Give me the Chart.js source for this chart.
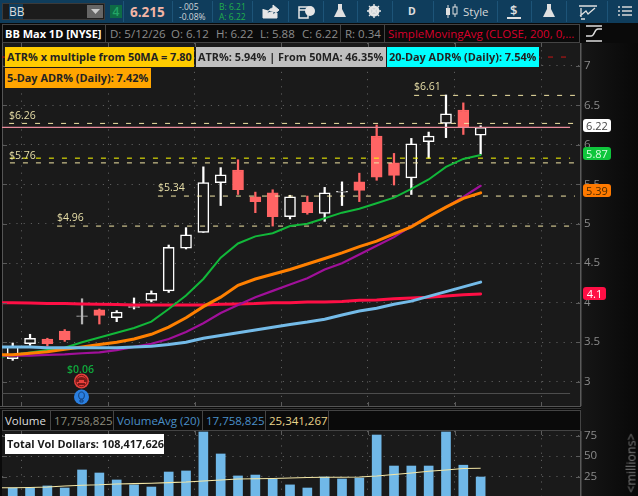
<!DOCTYPE html>
<html><head><meta charset="utf-8">
<script src="https://cdn.jsdelivr.net/npm/chart.js@4"></script>
<style>
html,body{margin:0;padding:0;background:#0a0a0a;overflow:hidden}
#root{position:relative;width:638px;height:496px;overflow:hidden;font-family:"Open Sans",sans-serif;background:#0a0a0a}
#root div{position:absolute;white-space:nowrap}
.tool{left:0;top:0;width:638px;height:23px;background:#0f3d5c}
.sep{top:1px;width:1px;height:21px;background:#1d5478}
.cell{top:24px;height:19px;box-sizing:border-box;border:1px solid #444;background:#0a0a0a}
.hd{top:24px;height:19px;line-height:19px;font-size:11.5px;color:#8c8c8c}
.plot{background:#1a1a1a}
.lab{font-weight:700;font-size:10.9px;line-height:19px;color:#222;height:19.5px;box-sizing:border-box;padding-left:2px}
.lvl{font-size:10.5px;color:#e8dfa8;line-height:12px}
.pill{font-size:11px;line-height:13px;height:13px;border-radius:3px;text-align:center}
canvas{position:absolute}
svg{position:absolute}
</style></head><body>
<div id="root">
  <div class="tool"></div>
  <div style="left:581px;top:43px;width:57px;height:453px;background:linear-gradient(90deg,#161616,#080808)"></div>
  <div style="left:2px;top:3px;width:103px;height:17px;background:#1c1c1c;border:1px solid #3a3a3a;box-sizing:border-box"></div>
  <div style="left:9px;top:4px;width:14px;height:15px;background:#0f3d5c;color:#ddd;font-size:12px;line-height:15px">BB</div>
  <div style="left:87px;top:5px;width:16px;height:13px;background:#666"></div>
  <svg style="left:91px;top:9px" width="9" height="5"><path d="M0 0H9L4.5 5Z" fill="#ccc"/></svg>
  <div style="left:110px;top:5px;width:12px;height:13px;background:#0e6b45;color:#23a566;font-size:12px;line-height:13px;text-align:center;font-weight:600">4</div>
  <div class="sep" style="left:123px"></div><div class="sep" style="left:172px"></div><div class="sep" style="left:212px"></div><div class="sep" style="left:252px"></div><div class="sep" style="left:288px"></div><div class="sep" style="left:323px"></div><div class="sep" style="left:357px"></div><div class="sep" style="left:392px"></div><div class="sep" style="left:433px"></div><div class="sep" style="left:497px"></div><div class="sep" style="left:531px"></div><div class="sep" style="left:566px"></div><div class="sep" style="left:607px"></div>
  <div style="left:130px;top:2px;font-size:13.5px;font-weight:700;color:#f2b5a5;line-height:20px">6.215</div>
  <div style="left:179px;top:2px;font-size:8.5px;color:#cfd6da;line-height:10px">-.005<br>-0.08%</div>
  <div style="left:219px;top:2px;font-size:8.5px;color:#21b04b;line-height:10px">B: 6.21<br>A: 6.22</div>
  <svg style="left:262px;top:4px" width="18" height="15"><path d="M1 5V14H15V9M5 10C6 6 9 4 11 4V1L17 6L11 11V8C9 8 7 8 5 10Z" fill="#e6e6e6" stroke="#e6e6e6"/></svg>
  <svg style="left:298px;top:4px" width="18" height="15"><path d="M1 3H10V14H1ZM1 6H9" fill="none" stroke="#e6e6e6" stroke-width="1.5"/><circle cx="12" cy="7" r="5" fill="#e6e6e6"/></svg>
  <svg style="left:333px;top:3px" width="14" height="16"><path d="M5 1H9V6L13 14H1L5 6Z" fill="#e0e0e0"/></svg>
  <svg style="left:367px;top:4px" width="14" height="14"><circle cx="7" cy="7" r="4" fill="none" stroke="#e6e6e6" stroke-width="3"/><path d="M7 0V14M0 7H14M2 2L12 12M12 2L2 12" stroke="#e6e6e6" stroke-width="1.4"/></svg>
  <div style="left:408px;top:2px;font-size:10.5px;font-weight:700;color:#e0e0e0;line-height:19px">D</div>
  <svg style="left:445px;top:4px" width="14" height="15"><path d="M3 1V14M10 0V13" stroke="#e0e0e0"/><rect x="1" y="4" width="4" height="7" fill="#e0e0e0"/><rect x="8" y="3" width="4" height="7" fill="#0f3d5c" stroke="#e0e0e0"/></svg>
  <div style="left:463px;top:2px;font-size:11.5px;color:#d8d8d8;line-height:19px">Style</div>
  <div style="left:510px;top:1px;font-size:13px;color:#e0e0e0;line-height:19px;font-weight:600">$</div>
  <div style="left:507px;top:17px;width:14px;height:2px;background:#e0e0e0"></div>
  <svg style="left:542px;top:3px" width="14" height="16"><path d="M5 1H9V6L13 14H1L5 6Z" fill="#e0e0e0"/></svg>
  <svg style="left:577px;top:4px" width="22" height="16"><path d="M2 2H20M4 4V13M3 12L9 7L11 10L18 4M4 15H8" fill="none" stroke="#e0e0e0" stroke-width="1.3"/></svg>
  <svg style="left:618px;top:6px" width="14" height="11"><path d="M0 1H2M4 1H14M0 5H2M4 5H14M0 9H2M4 9H14" stroke="#d8d8d8" stroke-width="1.5"/></svg>

  <div class="cell" style="left:2px;width:104px"></div>
  <div class="cell" style="left:105px;width:236px"></div>
  <div class="cell" style="left:340px;width:45px"></div>
  <div class="cell" style="left:384px;width:196px"></div>
  <div class="hd" style="left:5px;color:#fff;font-weight:700;font-size:11px">BB Max 1D [NYSE]</div>
  <div class="hd" style="left:110px">D: 5/12/26</div>
  <div class="hd" style="left:171px">O: 6.12</div>
  <div class="hd" style="left:216px">H: 6.22</div>
  <div class="hd" style="left:260px">L: 5.88</div>
  <div class="hd" style="left:302px">C: 6.22</div>
  <div class="hd" style="left:345px">R: 0.34</div>
  <div class="hd" style="left:388px;color:#d8002c">SimpleMovingAvg (CLOSE, 200, 0,...</div>
  <svg style="left:585px;top:25px" width="18" height="17"><path d="M1 1H17M1 16H17M1 11H6C10 11 9 4 13 4H17" fill="none" stroke="#ddd" stroke-width="1.5"/></svg>

  <div class="plot" style="left:2px;top:43px;width:579px;height:363px"></div>
  <div style="left:2px;top:43px;width:1px;height:363px;background:#555"></div>
  <canvas id="price"></canvas>

  <div class="lab" style="left:5px;top:47px;width:189px;background:#ffcc00">ATR% x multiple from 50MA = 7.80</div>
  <div class="lab" style="left:196px;top:47px;width:190px;background:#c0c0c0">ATR%: 5.94% | From 50MA: 46.35%</div>
  <div class="lab" style="left:387px;top:47px;width:152px;background:#00ffff">20-Day ADR% (Daily): 7.54%</div>
  <div class="lab" style="left:5px;top:68px;width:146px;background:#ffa500">5-Day ADR% (Daily): 7.42%</div>

  <div class="lvl" style="left:9px;top:109px">$6.26</div>
  <div class="lvl" style="left:9px;top:149px">$5.76</div>
  <div class="lvl" style="left:158px;top:181px">$5.34</div>
  <div class="lvl" style="left:57px;top:211px">$4.96</div>
  <div class="lvl" style="left:414px;top:80px">$6.61</div>

  <div class="pill" style="left:583px;top:119px;width:28px;background:#fff;color:#444">6.22</div>
  <div class="pill" style="left:583px;top:147px;width:28px;background:#0fc63c;color:#d8ffe0">5.87</div>
  <div class="pill" style="left:583px;top:184px;width:28px;background:#ff7a00;color:#4a2a00">5.39</div>
  <div class="pill" style="left:583px;top:287px;width:23px;background:#ff0f45;color:#fff">4.1</div>

  <div style="left:67px;top:363px;font-size:10.5px;font-weight:600;color:#10a93c;line-height:13px">$0.06</div>
  <svg style="left:73px;top:373px" width="17" height="32">
    <circle cx="8.5" cy="8" r="7.5" fill="#e8403c"/><path d="M3 7C5 3 12 3 14 7V9H11V7H6V9H3ZM5 10H12V12H5Z" fill="#7a1a18"/><circle cx="8.5" cy="8" r="5.6" fill="none" stroke="#7a1a18"/>
    <circle cx="8.5" cy="24" r="7.5" fill="#2a7fe0"/><path d="M8.5 19C5 19 5 24 7 26H10C12 24 12 19 8.5 19ZM7 27H10V29H7Z" fill="none" stroke="#123f78"/>
  </svg>

  <div style="left:0;top:406px;width:581px;height:1px;background:#555"></div>
  <div style="left:0;top:408px;width:581px;height:1px;background:#333"></div>
  <div class="cell" style="left:2px;top:410px;width:579px;height:21px"></div>
  <div style="left:50px;top:411px;width:1px;height:19px;background:#444"></div>
  <div style="left:113px;top:411px;width:1px;height:19px;background:#444"></div>
  <div style="left:202px;top:411px;width:1px;height:19px;background:#444"></div>
  <div style="left:265px;top:411px;width:1px;height:19px;background:#444"></div>
  <div style="left:328px;top:411px;width:1px;height:19px;background:#444"></div>
  <div class="hd" style="left:5px;top:410px;line-height:21px;color:#ddd">Volume</div>
  <div class="hd" style="left:54px;top:410px;line-height:21px;color:#8a8a7c">17,758,825</div>
  <div class="hd" style="left:117px;top:410px;line-height:21px;color:#4a90c8">VolumeAvg (20)</div>
  <div class="hd" style="left:206px;top:410px;line-height:21px;color:#4a90c8">17,758,825</div>
  <div class="hd" style="left:269px;top:410px;line-height:21px;color:#e8d48a">25,341,267</div>

  <div class="plot" style="left:2px;top:431px;width:579px;height:65px"></div>
  <canvas id="vol"></canvas>
  <div class="lab" style="left:5px;top:434px;width:159px;background:#fff;color:#1a1a1a">Total Vol Dollars: 108,417,626</div>
  <div style="left:631px;top:463px;font-size:12.5px;color:#7a7a7a;transform:translate(-50%,-50%) rotate(-90deg)">&lt;millions&gt;</div>
</div>
<script>
// ---- data ----
const candleIndex = [0,1,2,3,4,5,6,7,8,9,10,11,12,13,14,15,16,17,18,19,20,21,22,23,24,25,26,27];
const openPrices  = [3.29,3.48,3.54,3.64,3.83,3.91,3.81,3.94,4.03,4.15,4.69,4.89,5.52,5.68,5.34,5.39,5.09,5.27,5.13,5.40,5.53,6.11,5.77,5.58,6.04,6.27,6.44,6.12];
const closePrices = [3.44,3.55,3.48,3.53,3.83,3.84,3.88,3.95,4.12,4.70,4.86,5.52,5.62,5.43,5.28,5.09,5.34,5.14,5.39,5.41,5.42,5.59,5.61,6.01,6.11,6.39,6.23,6.22];
const highPrices  = [3.49,3.60,3.55,3.66,4.05,3.92,3.90,4.06,4.15,4.73,4.95,5.72,5.71,5.81,5.40,5.43,5.36,5.35,5.46,5.53,5.64,6.25,5.89,6.08,6.16,6.63,6.53,6.24];
const lowPrices   = [3.27,3.46,3.45,3.51,3.73,3.73,3.76,3.92,4.01,4.13,4.68,4.89,5.23,5.37,5.14,4.97,5.06,5.12,5.03,5.23,5.28,5.55,5.49,5.37,5.83,6.09,6.13,5.88];
const lineIndex = [-1,0,1,2,3,4,5,6,7,8,9,10,11,12,13,14,15,16,17,18,19,20,21,22,23,24,25,26,27];
const greenLine  = [3.30,3.34,3.37,3.40,3.43,3.50,3.56,3.62,3.68,3.76,3.92,4.09,4.30,4.57,4.75,4.84,4.88,4.97,5.00,5.07,5.14,5.19,5.26,5.33,5.44,5.56,5.72,5.82,5.87];
const orangeLine = [3.34,3.34,3.36,3.38,3.41,3.44,3.47,3.50,3.54,3.60,3.69,3.81,3.95,4.07,4.22,4.30,4.36,4.42,4.49,4.56,4.63,4.71,4.78,4.87,4.96,5.09,5.21,5.32,5.39];
const purpleLine = [3.33,3.33,3.33,3.34,3.345,3.36,3.37,3.40,3.44,3.48,3.54,3.63,3.74,3.87,3.97,4.07,4.15,4.23,4.31,4.42,4.50,4.61,4.72,4.83,4.97,5.09,5.21,5.34,5.48];
const blueLine   = [3.44,3.44,3.44,3.43,3.43,3.43,3.43,3.43,3.44,3.45,3.47,3.50,3.55,3.585,3.62,3.655,3.69,3.725,3.755,3.79,3.845,3.895,3.93,3.98,4.02,4.08,4.14,4.20,4.26];
const redLine    = [4.00,4.00,3.997,3.99,3.99,3.985,3.98,3.977,3.97,3.97,3.97,3.97,3.97,3.98,3.985,3.99,4.00,4.00,4.01,4.01,4.016,4.03,4.035,4.05,4.06,4.07,4.085,4.10,4.11];
const levelPrices = [6.625,6.27,5.77,5.35,4.97];
const levelStarts = [23.16,-0.21,-0.16,8.38,2.56];
const yellowLevel = 5.83, lastPrice = 6.22, floorLevel = 2.85, topLevel = 7.11;
const volumes = [11.2,11.6,13.7,11.2,33.2,29.5,21,15,12.4,30.7,32,79.5,52.7,25.9,27,22.2,15,11.2,24.6,22.2,23.4,75.8,38,38,38,79.5,39,24.6];
const volumeAvg = [11.5,11.6,11.8,12.4,13.7,14.6,15.1,16.1,16.6,17,17.8,18.5,19.8,21,22.2,22.4,22.8,23.4,24,24.3,24.3,24.6,25.9,27.7,29.5,31.6,33.2,35,35.2];
const priceTicks = [3,3.5,4,4.5,5,5.5,6,6.5,7];
const volumeTicks = [25,50,75];
const gridPositions = [0.5,5.5,10.5,15.5,20.5,25.5,30.5];

// ---- styling ----
const X_MIN=-0.618, X_MAX=32.79, LEVEL_END=32.44, LINE_END=32.16;
const PLOT='#1a1a1a', UP='#ffffff', DOWN='#ff6464', FLAT='#b4b4b4';
const cream='#f3e6a6';
Chart.defaults.animation=false;
Chart.defaults.font.family='"Open Sans",sans-serif';
const col=i=>closePrices[i]===openPrices[i]?FLAT:closePrices[i]>openPrices[i]?UP:DOWN;
const fill=i=>closePrices[i]>openPrices[i]?PLOT:col(i);

const innerTicks={id:'innerTicks',afterDraw(c){
  const {ctx,chartArea:a,scales:{x,y}}=c;ctx.save();ctx.strokeStyle='#5a5a5a';ctx.lineWidth=1;ctx.beginPath();
  for(const v of gridPositions){const p=Math.round(x.getPixelForValue(v))+.5;
    ctx.moveTo(p,a.top);ctx.lineTo(p,a.top+4);
    if(c.canvas.id==='price'){ctx.moveTo(p,a.bottom-4);ctx.lineTo(p,a.bottom);}}
  for(const t of y.ticks){const p=Math.round(y.getPixelForValue(t.value))+.5;
    ctx.moveTo(a.left,p);ctx.lineTo(a.left+5,p);ctx.moveTo(a.right-5,p);ctx.lineTo(a.right,p);}
  ctx.stroke();ctx.restore();}};

function scales(yMin,yMax,tickVals){return{
  x:{type:'linear',min:X_MIN,max:X_MAX,offset:false,
    afterBuildTicks:s=>{s.ticks=gridPositions.map(value=>({value}));},
    afterFit:s=>{s.height=0;s.paddingLeft=0;s.paddingRight=0;},
    ticks:{display:false},
    grid:{color:'#5c5c5c',lineWidth:1,drawTicks:false,offset:false},
    border:{display:false,dash:[1.2,6]}},
  y:{type:'linear',position:'right',min:yMin,max:yMax,
    afterBuildTicks:s=>{s.ticks=tickVals.map(value=>({value}));},
    afterFit:s=>{s.width=57;s.paddingTop=0;s.paddingBottom=0;},
    ticks:{color:'#8a8a8a',font:{size:11.5},padding:3,autoSkip:false,callback:v=>String(v)},
    grid:{color:'#5c5c5c',lineWidth:1,drawTicks:false},
    border:{display:true,color:'#5a5a5a',width:1.5,dash:[1.2,6]}}
};}
function place(id,top,h){const el=document.getElementById(id);el.style.left='0';el.style.top=top+'px';el.style.width='638px';el.style.height=h+'px';el.width=638;el.height=h;return el;}
const series=(vals,c,w,o)=>({type:'line',data:lineIndex.map((x,i)=>({x,y:vals[i]})),borderColor:c,borderWidth:w,pointRadius:0,tension:0,order:o,borderCapStyle:'round'});
const level=(p,s,e,c,o)=>({type:'line',data:[{x:s,y:p},{x:e,y:p}],borderColor:c,borderWidth:1,borderDash:[5,8],pointRadius:0,order:o});
const solid=(p,e,c,w,o)=>({type:'line',data:[{x:X_MIN,y:p},{x:e,y:p}],borderColor:c,borderWidth:w,pointRadius:0,order:o});

new Chart(place('price',43,363),{type:'bar',plugins:[innerTicks],
 data:{datasets:[
  {type:'bar',grouped:false,order:20,barThickness:1.6,data:candleIndex.map(i=>({x:i,y:[lowPrices[i],highPrices[i]]})),backgroundColor:candleIndex.map(col)},
  {type:'bar',grouped:false,order:19,barThickness:11,borderSkipped:false,borderWidth:1.5,
   data:candleIndex.map(i=>{const a=openPrices[i],b=closePrices[i];return {x:i,y:a===b?[a-0.004,a+0.004]:[a,b]};}),
   backgroundColor:candleIndex.map(fill),borderColor:candleIndex.map(col)},
  solid(floorLevel,LINE_END,'#4d4d4d',1.2,25),
  level(topLevel,X_MIN,LINE_END,'#c81414',25),
  ...levelPrices.map((p,i)=>level(p,levelStarts[i],LEVEL_END,cream,15)),
  level(yellowLevel,-0.16,LINE_END,'#ffff00',15),
  solid(lastPrice,LINE_END,'#e98c9c',1.2,14),
  series(redLine,'#ff0f45',3,7),
  series(greenLine,'#12b83a',2,6),
  series(purpleLine,'#a0109a',2.2,5),
  series(orangeLine,'#ff8000',3,4),
  series(blueLine,'#74bbe8',3,3)
 ]},
 options:{responsive:false,devicePixelRatio:1,layout:{padding:{left:2,right:0,top:0,bottom:0}},
  plugins:{legend:{display:false},tooltip:{enabled:false}},
  scales:scales(2.692,7.288,priceTicks)}});

new Chart(place('vol',431,65),{type:'bar',plugins:[innerTicks],
 data:{datasets:[
  {type:'bar',grouped:false,order:5,barThickness:9,data:candleIndex.map(i=>({x:i,y:volumes[i]})),backgroundColor:'#70b8e8'},
  {type:'line',order:3,data:lineIndex.map((x,i)=>({x,y:volumeAvg[i]})),borderColor:cream,borderWidth:1.1,pointRadius:0}
 ]},
 options:{responsive:false,devicePixelRatio:1,layout:{padding:{left:2,right:0,top:0,bottom:0}},
  plugins:{legend:{display:false},tooltip:{enabled:false}},
  scales:scales(1.46,80.7,volumeTicks)}});
</script>
</body></html>
